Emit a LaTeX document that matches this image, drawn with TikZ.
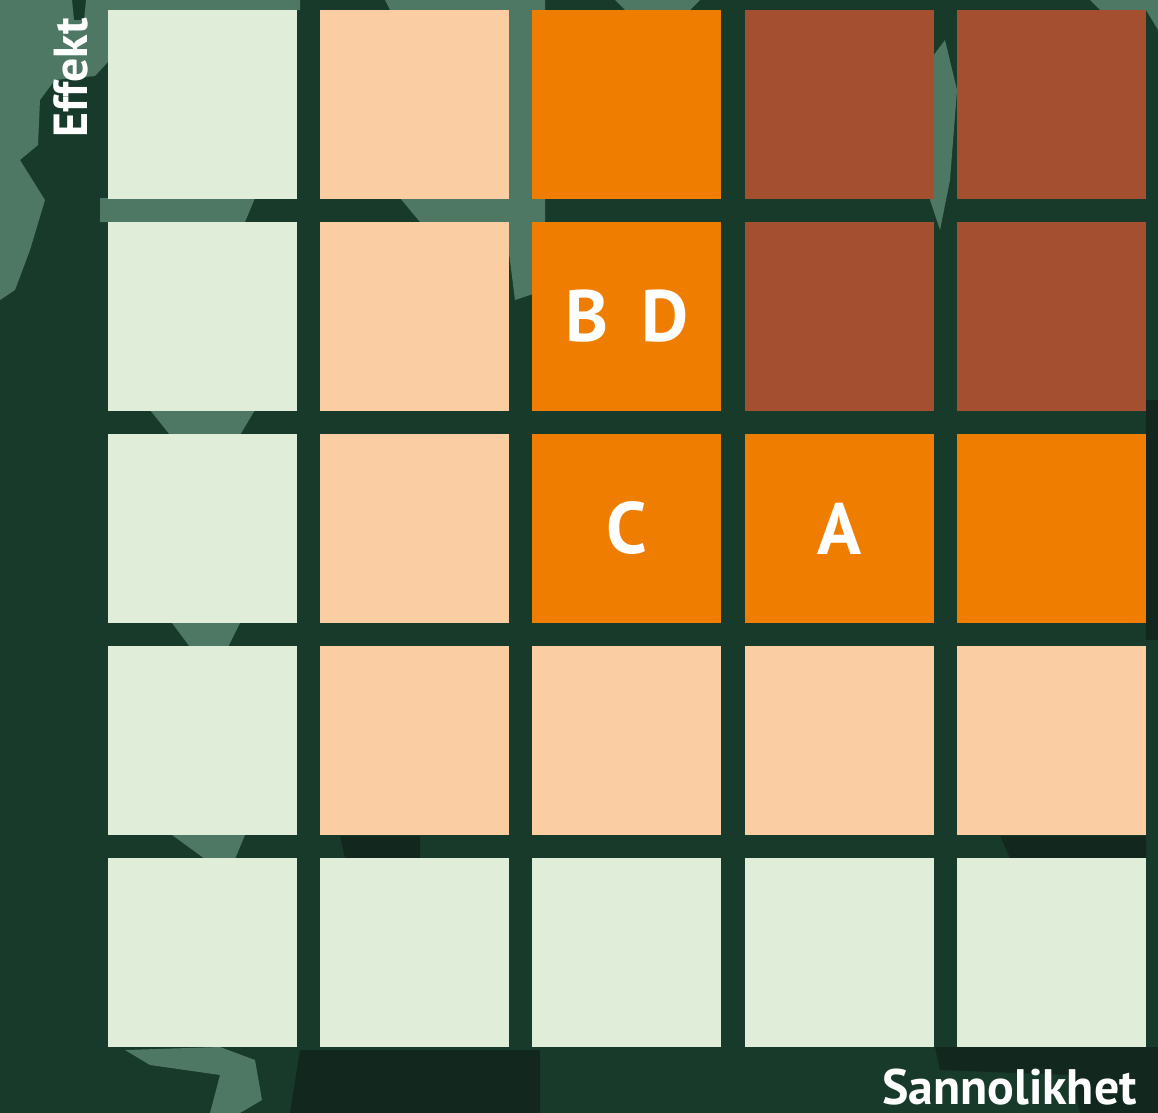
\documentclass[tikz,border=0pt]{standalone}
\usepackage{fontspec}
\setmainfont{PT Sans}
\usetikzlibrary{positioning}
\definecolor{bgdark}{HTML}{183A2B}
\definecolor{bgdeep}{HTML}{12281E}
\definecolor{camolight}{HTML}{4E7864}
\definecolor{lgr}{HTML}{E0EDD9}
\definecolor{pch}{HTML}{FACEA2}
\definecolor{org}{HTML}{EF7E00}
\definecolor{brn}{HTML}{A54F31}
\tikzset{
cellbox/.style={
  inner sep=0pt,
  minimum size=189bp
},
celllabel/.style={
  text=white,
  font=\fontsize{73}{80}\selectfont\bfseries
},
axislabel/.style={
  text=white,
  inner sep=0pt,
  font=\fontsize{48}{52}\selectfont\bfseries
},
camo/.style={fill=camolight},
deep/.style={fill=bgdeep}
}

\begin{document}
\begin{tikzpicture}[x=1bp,y=1bp]

\useasboundingbox (0,0) rectangle (1158,-1113);
\fill[bgdark] (0,0) rectangle (1158,-1113);

% camouflage in the background
\fill[camo] (0,0) -- (72,0) -- (74,-20) -- (84,-20) -- (86,0) -- (300,0) -- (300,-10) -- (108,-10) -- (108,-62) -- (95,-76) -- (55,-80) -- (40,-100) -- (38,-145) -- (20,-160) -- (45,-200) -- (30,-250) -- (15,-290) -- (0,-300) -- cycle;
\fill[camo] (385,0) -- (545,0) -- (545,-290) -- (515,-300) -- (505,-222) -- (420,-222) -- (400,-198) -- (505,-198) -- (505,-10) -- (390,-10) -- cycle;
\fill[camo] (615,0) -- (700,0) -- (690,-10) -- (625,-10) -- cycle;
\fill[camo] (930,-60) -- (945,-40) -- (957,-90) -- (950,-180) -- (940,-230) -- (930,-200) -- cycle;
\fill[camo] (1090,0) -- (1158,0) -- (1158,-30) -- (1146,-10) -- (1100,-10) -- cycle;
\fill[camo] (100,-198) -- (255,-198) -- (245,-222) -- (100,-222) -- cycle;
\fill[camo] (150,-410) -- (255,-410) -- (240,-435) -- (170,-435) -- cycle;
\fill[camo] (172,-623) -- (240,-623) -- (228,-647) -- (190,-647) -- cycle;
\fill[camo] (172,-835) -- (245,-835) -- (235,-859) -- (205,-859) -- cycle;
\fill[camo] (125,-1050) -- (220,-1047) -- (255,-1060) -- (262,-1100) -- (240,-1113) -- (210,-1113) -- (220,-1075) -- (150,-1065) -- cycle;
\fill[deep] (300,-1050) -- (540,-1050) -- (540,-1113) -- (290,-1113) -- cycle;
\fill[deep] (935,-1047) -- (1158,-1047) -- (1158,-1113) -- (1080,-1113) -- (1070,-1075) -- (940,-1070) -- cycle;
\fill[deep] (1146,-400) -- (1158,-400) -- (1158,-640) -- (1146,-640) -- cycle;
\fill[deep] (340,-836) -- (420,-836) -- (420,-858) -- (345,-858) -- cycle;
\fill[deep] (1000,-836) -- (1146,-836) -- (1146,-858) -- (1010,-858) -- cycle;

% risk matrix
\foreach [count=\r] \rowcols in {{lgr,pch,org,brn,brn},{lgr,pch,org,brn,brn},{lgr,pch,org,org,org},{lgr,pch,pch,pch,pch},{lgr,lgr,lgr,lgr,lgr}}
  \foreach [count=\c] \col in \rowcols
    \node[cellbox, fill=\col] (cell-\r-\c) at ({202.5+(\c-1)*212.2},{-104-(\r-1)*212.2}) {};

\node[celllabel] (bd) at (cell-2-3) {B\hspace{0.45em}D};
\node[celllabel] (c) at (cell-3-3) {C};
\node[celllabel] (a) at (cell-3-4) {A};

\node[axislabel, rotate=90, anchor=base west] (ylabel) at (87,-138) {Effekt};
\node[axislabel, font=\fontsize{50}{54}\selectfont\bfseries, anchor=base east] (xlabel) at (1137,-1104) {Sannolikhet};

\end{tikzpicture}
\end{document}
